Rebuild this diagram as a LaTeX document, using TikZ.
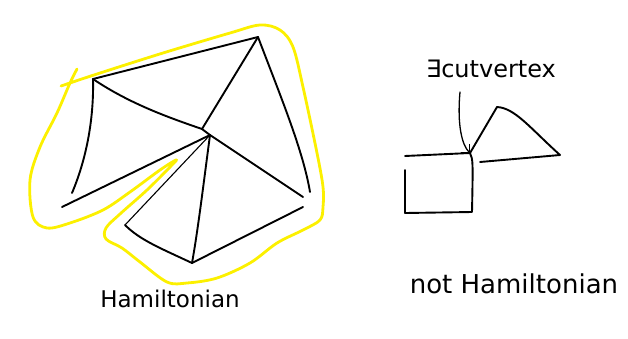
\documentclass[tikz,border=0pt]{standalone}
\usepackage{fontspec}
\setmainfont{DejaVu Sans}
\usetikzlibrary{arrows.meta}
\definecolor{hlyellow}{RGB}{252,240,0}
\tikzset{sketch/.style={x=1pt,y=-1pt,line cap=round,line join=round},
  edge/.style={black,line width=1.9pt},
  hilite/.style={hlyellow,line width=2.8pt},
  hand/.style={font=\fontsize{23}{23}\selectfont,anchor=base,inner sep=0pt}}

\begin{document}
\begin{tikzpicture}[sketch]
    \useasboundingbox (0,0) rectangle (628,338);
    % Hamiltonian graph
    \coordinate (a) at (93,79);
    \coordinate (b) at (258,37);
    \coordinate (j) at (202,129);
    \coordinate (c) at (210,135);
    \coordinate (d) at (72,193);
    \coordinate (e) at (62,207);
    \coordinate (f) at (310,192);
    \coordinate (f2) at (303,197);
    \coordinate (f3) at (303,207);
    \coordinate (g) at (125,225);
    \coordinate (h) at (192,263);
    \draw[edge] (a) -- (b);
    \draw[edge] (a) .. controls (94,120) and (86,160) .. (d);
    \draw[edge] (a) .. controls (130,104) and (170,118) .. (j) -- (c);
    \draw[edge] (b) -- (j);
    \draw[edge] (b) .. controls (280,95) and (303,150) .. (f);
    \draw[edge] (c) -- (e);
    \draw[black,line width=1.1pt] (c) -- (g);
    \draw[edge] (c) .. controls (204,180) and (198,230) .. (h);
    \draw[edge] (c) -- (f2);
    \draw[edge] (g) .. controls (140,240) and (160,248) .. (h);
    \draw[edge] (h) -- (f3);
    % cycle around it
    \draw[hilite] plot[smooth,tension=0.55] coordinates {(77,69) (70,83) (57,113) (40,147) (30,180) (33,217)
      (47,228) (70,223) (103,210) (130,192) (160,170) (176,160) (171,166) (147,190) (120,214) (106,228)
      (106,239) (122,248) (140,262) (167,282) (187,283) (217,278) (250,263) (277,243) (303,230) (320,220)
      (323,207) (323,187) (317,153) (303,87) (293,47) (280,30) (260,25) (230,33) (163,53) (97,74) (61,86)};
    \node[hand] (hamlabel) at (170,307) {Hamiltonian};
    % graph with a cut vertex
    \coordinate (k) at (470,153);
    \coordinate (tl) at (405,156);
    \coordinate (br) at (472,212);
    \coordinate (bl) at (405,213);
    \coordinate (lt) at (405,170);
    \coordinate (p) at (497,107);
    \coordinate (r) at (560,155);
    \coordinate (q) at (480,162);
    \draw[edge] (tl) -- (k) .. controls (473,160) .. (br) -- (bl) -- (lt);
    \draw[edge] (k) -- (p) .. controls (515,108) and (530,128) .. (r) -- (q);
    \node[hand,font=\fontsize{24}{24}\selectfont] (cutlabel) at (491,77) {∃cutvertex};
    \coordinate (arr) at (460,92);
    \draw[black,line width=1.3pt,-{Straight Barb[length=6pt]}] (arr) .. controls (457,125) and (462,145) .. (k);
    \node[hand,font=\fontsize{26}{26}\selectfont] (notlabel) at (514,293) {not Hamiltonian};
\end{tikzpicture}
\end{document}
